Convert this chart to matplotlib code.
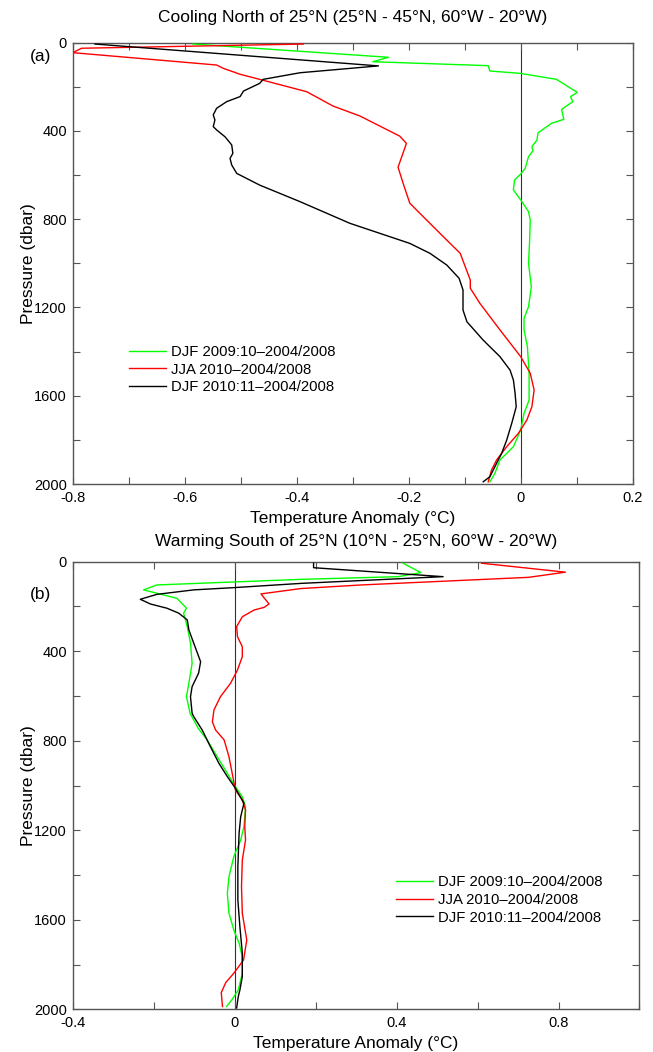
import matplotlib
matplotlib.use('Agg')
import matplotlib.pyplot as plt
from matplotlib.ticker import MultipleLocator, FuncFormatter

plt.rcParams['font.family'] = ['Liberation Sans', 'DejaVu Sans']
plt.rcParams['axes.unicode_minus'] = False

# ---------------- data: panel (a) ----------------
a_green_T = [-0.585, -0.236, -0.264, -0.058, -0.055, 0.0, 0.064, 0.101, 0.089, 0.093, 0.073, 0.077,
             0.055, 0.031, 0.029, 0.020, 0.022, 0.014, 0.008, 0.0, -0.011, -0.013, 0.0, 0.014,
             0.017, 0.016, 0.014, 0.019, 0.014, 0.006, 0.006, 0.012, 0.015, 0.015, 0.006, 0.0,
             -0.013, -0.037, -0.046, -0.055]
a_green_P = [7, 67, 87, 105, 129, 140, 167, 226, 245, 268, 303, 348,
             366, 409, 442, 472, 490, 517, 570, 596, 623, 668, 713, 766,
             804, 895, 1000, 1106, 1197, 1249, 1302, 1378, 1498, 1619, 1680, 1755,
             1831, 1891, 1951, 1990]

a_red_T = [-0.388, -0.784, -0.800, -0.543, -0.531, -0.501, -0.466, -0.382, -0.335, -0.287,
           -0.216, -0.204, -0.219, -0.208, -0.198, -0.174, -0.138, -0.108, -0.090, -0.090,
           -0.073, -0.037, 0.0, 0.017, 0.024, 0.020, 0.011, -0.004, -0.025, -0.043, -0.052, -0.058]
a_red_P = [7, 26, 46, 102, 117, 144, 167, 223, 288, 333,
           424, 457, 565, 653, 728, 789, 880, 955, 1076, 1113,
           1181, 1302, 1423, 1498, 1574, 1650, 1710, 1770, 1831, 1891, 1936, 1990]

a_black_T = [-0.760, -0.254, -0.394, -0.460, -0.466, -0.495, -0.501, -0.525, -0.543, -0.549,
             -0.546, -0.549, -0.543, -0.528, -0.516, -0.514, -0.519, -0.516, -0.507, -0.466,
             -0.394, -0.305, -0.198, -0.162, -0.132, -0.110, -0.103, -0.103, -0.096, -0.067,
             -0.037, -0.019, -0.013, -0.010, -0.008, -0.016, -0.025, -0.034, -0.043, -0.055, -0.067]
a_black_P = [7, 106, 137, 167, 185, 220, 245, 268, 298, 328,
             351, 381, 396, 427, 464, 502, 525, 555, 593, 646,
             721, 819, 910, 955, 1008, 1068, 1121, 1212, 1265, 1348,
             1423, 1484, 1529, 1589, 1650, 1725, 1801, 1861, 1906, 1967, 1990]

# ---------------- data: panel (b) ----------------
b_green_T = [0.416, 0.460, 0.404, 0.164, -0.192, -0.225, -0.192, -0.142, -0.119, -0.126, -0.117,
             -0.109, -0.105, -0.113, -0.119, -0.110, -0.090, -0.068, -0.043, -0.018, 0.002, 0.019,
             0.027, 0.023, 0.015, -0.002, -0.014, -0.018, -0.014, -0.002, 0.011, 0.019, 0.019,
             0.009, -0.007, -0.020]
b_green_P = [7, 49, 67, 79, 104, 126, 141, 164, 208, 230, 290,
             364, 454, 543, 603, 677, 744, 796, 871, 945, 1005, 1050,
             1094, 1184, 1243, 1317, 1407, 1481, 1570, 1645, 1704, 1764, 1838,
             1913, 1957, 1987]

b_red_T = [0.610, 0.817, 0.726, 0.313, 0.164, 0.065, 0.085, 0.073, 0.048, 0.019, 0.005, 0.007,
           0.019, 0.019, 0.007, -0.010, -0.035, -0.051, -0.055, -0.047, -0.026, -0.014, -0.006,
           0.002, 0.019, 0.027, 0.025, 0.027, 0.019, 0.017, 0.019, 0.030, 0.022, -0.002, -0.022,
           -0.033, -0.030]
b_red_P = [7, 47, 70, 104, 120, 144, 189, 204, 216, 246, 290, 335,
           380, 424, 484, 543, 603, 662, 715, 752, 796, 871, 945,
           1020, 1064, 1109, 1184, 1243, 1332, 1451, 1570, 1690, 1779, 1838, 1880,
           1925, 1987]

b_black_T = [0.195, 0.195, 0.515, 0.164, -0.002, -0.101, -0.192, -0.233, -0.208, -0.167, -0.138,
             -0.117, -0.113, -0.101, -0.084, -0.089, -0.105, -0.109, -0.105, -0.101, -0.080,
             -0.064, -0.039, -0.018, 0.002, 0.023, 0.015, 0.011, 0.008, 0.008, 0.013, 0.019,
             0.019, 0.013, 0.009, 0.005]
b_black_P = [7, 27, 67, 97, 116, 126, 146, 168, 189, 208, 230,
             260, 305, 364, 447, 498, 558, 603, 677, 692, 752,
             811, 900, 960, 1012, 1079, 1139, 1213, 1362, 1511, 1630, 1749,
             1853, 1913, 1943, 1993]

labels = ['DJF 2009:10\u20132004/2008', 'JJA 2010\u20132004/2008', 'DJF 2010:11\u20132004/2008']
colors = ['#00ff00', '#ff0000', '#000000']

titles = ['Cooling North of 25\u00b0N (25\u00b0N - 45\u00b0N, 60\u00b0W - 20\u00b0W)',
          'Warming South of 25\u00b0N (10\u00b0N - 25\u00b0N, 60\u00b0W - 20\u00b0W)']

fig = plt.figure(figsize=(6.53, 10.52), dpi=100)
ax1 = fig.add_axes([0.1113, 0.5399, 0.8576, 0.4197])
ax2 = fig.add_axes([0.1113, 0.0404, 0.8680, 0.4257])


def fmt_factory(step):
    def f(v, pos):
        k = round(v / step)
        if abs(v / step - k) > 1e-6:
            return ''
        if abs(v) < 1e-9:
            return '0'
        return ('%g' % round(v, 3))
    return FuncFormatter(f)


def style(ax, xlim, xmaj, title, tpad):
    ax.set_xlim(*xlim)
    ax.set_ylim(2000, 0)
    ax.xaxis.set_major_locator(MultipleLocator(xmaj))
    ax.xaxis.set_major_formatter(fmt_factory(xmaj * 2))
    ax.yaxis.set_major_locator(MultipleLocator(200))
    ax.yaxis.set_major_formatter(fmt_factory(400))
    ax.tick_params(direction='in', length=5, width=0.8, top=True, right=True,
                   labelsize=10.5, color='#555555', pad=5)
    ax.tick_params(axis='y', pad=4)
    for s in ax.spines.values():
        s.set_color('#555555')
        s.set_linewidth(1.0)
    ax.axvline(0, color='#333333', lw=0.8, zorder=1)
    ax.set_xlabel('Temperature Anomaly (\u00b0C)', fontsize=12.5, labelpad=4)
    ax.set_ylabel('Pressure (dbar)', fontsize=12.5, labelpad=-1)
    ax.set_title(title, fontsize=12.5, pad=tpad)


style(ax1, (-0.8, 0.2), 0.1, titles[0], 15)
style(ax2, (-0.4, 1.0), 0.2, titles[1], 11)

for T, P, c, l in zip([a_green_T, a_red_T, a_black_T], [a_green_P, a_red_P, a_black_P], colors, labels):
    ax1.plot(T, P, color=c, lw=1.0, label=l, zorder=3)
for T, P, c, l in zip([b_green_T, b_red_T, b_black_T], [b_green_P, b_red_P, b_black_P], colors, labels):
    ax2.plot(T, P, color=c, lw=1.0, label=l, zorder=3)

leg_kw = dict(frameon=False, fontsize=10.7, handlelength=2.5, handletextpad=0.35,
              labelspacing=0.25, borderpad=0, borderaxespad=0)
ax1.legend(loc='upper left', bbox_to_anchor=(0.10, 0.315), **leg_kw)
ax2.legend(loc='upper left', bbox_to_anchor=(0.570, 0.30), **leg_kw)

fig.text(41 / 653, 1 - 56 / 1052, '(a)', fontsize=12.5, ha='center', va='center')
fig.text(41 / 653, 1 - 594 / 1052, '(b)', fontsize=12.5, ha='center', va='center')

fig.savefig('out.png', dpi=100)
